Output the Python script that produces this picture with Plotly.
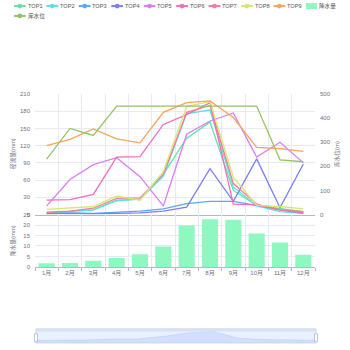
import plotly.graph_objects as go

months = ["1月", "2月", "3月", "4月", "5月", "6月", "7月", "8月", "9月", "10月", "11月", "12月"]
top1 = [3, 5, 8, 25, 27, 70, 133, 161, 42, 16, 11, 5]
top2 = [3, 5, 8, 24, 27, 67, 176, 182, 48, 15, 5, 2]
top3 = [2, 3, 2, 4, 6, 10, 19, 23, 23, 16, 8, 2]
top4 = [1, 2, 1, 2, 3, 6, 13, 80, 23, 97, 12, 88]
top5 = [15, 61, 87, 99, 66, 15, 140, 163, 177, 100, 126, 90]
top6 = [25, 26, 35, 100, 101, 157, 174, 195, 18, 17, 8, 3]
top7 = [4, 6, 11, 28, 29, 70, 178, 190, 54, 18, 8, 5]
top8 = [9, 11, 14, 32, 25, 75, 188, 197, 65, 16, 14, 10]
top9 = [120, 131, 149, 132, 125, 178, 195, 198, 169, 117, 115, 110]
rain = [1.8, 1.9, 3.0, 4.3, 6.0, 9.8, 19.8, 22.8, 22.5, 16.0, 11.7, 5.8]
level = [230, 357, 328, 450, 450, 450, 450, 450, 450, 450, 227, 219]

names = ["TOP1", "TOP2", "TOP3", "TOP4", "TOP5", "TOP6", "TOP7", "TOP8", "TOP9"]
series = [top1, top2, top3, top4, top5, top6, top7, top8, top9]
colors = ["#63e3a2", "#55e2e6", "#57a9f5", "#7d7ef2", "#dc7cf5", "#f26dbd", "#f57a9b", "#d3e86e", "#f7a35c"]
rain_color = "#8ff7c0"
level_color = "#98c262"

W, H = 350, 350
ML, MR, MT, MB = 35, 35, 94, 4
PW, PH = W - ML - MR, H - MT - MB


def px(x):
    return (x - ML) / PW


def py(y):
    return (H - MB - y) / PH


FONT = "Liberation Sans, Noto Sans CJK SC, sans-serif"
GRID = "#E6EAF2"
AXC = "#6E7079"

fig = go.Figure()

for n, s, c in zip(names, series, colors):
    fig.add_trace(go.Scatter(x=months, y=s, name=n, mode="lines",
                             line=dict(color=c, width=1.3), xaxis="x", yaxis="y",
                             showlegend=False))
fig.add_trace(go.Scatter(x=months, y=level, name="库水位", mode="lines",
                         line=dict(color=level_color, width=1.3), xaxis="x", yaxis="y2",
                         showlegend=False))
fig.add_trace(go.Bar(x=months, y=rain, name="降水量", marker=dict(color=rain_color, line=dict(width=0)),
                     xaxis="x2", yaxis="y3", showlegend=False))

# data-zoom slider shadow (first series)
idx = list(range(len(months)))
lo, hi = min(top1), max(top1)
pad = (hi - lo) * 0.3
ymin, ymax = lo - pad, hi + pad
fig.add_trace(go.Scatter(x=idx, y=[ymin] * len(idx), mode="lines", line=dict(width=0),
                         xaxis="x3", yaxis="y4", showlegend=False, hoverinfo="skip"))
fig.add_trace(go.Scatter(x=idx, y=top1, mode="lines", fill="tonexty",
                         fillcolor="rgba(143,176,247,0.25)", line=dict(color="rgba(143,176,247,0.35)", width=0.8),
                         xaxis="x3", yaxis="y4", showlegend=False, hoverinfo="skip"))

shapes = []
annotations = []

# slider frame
shapes.append(dict(type="rect", xref="paper", yref="paper", x0=px(36), x1=px(316), y0=py(346), y1=py(331.7),
                   line=dict(color="#d2dbee", width=1), fillcolor="rgba(135,175,255,0.18)", layer="below"))
shapes.append(dict(type="rect", xref="paper", yref="paper", x0=px(36), x1=px(316), y0=py(334.3), y1=py(331.7),
                   line=dict(width=0), fillcolor="rgba(210,219,238,0.7)", layer="above"))
for hx in (36, 316):
    shapes.append(dict(type="rect", xref="paper", yref="paper", x0=px(hx - 1.5), x1=px(hx + 1.5),
                       y0=py(344.7), y1=py(336.7), line=dict(color="#ACB8D1", width=0.8),
                       fillcolor="white", layer="above"))

# custom legend
LEG_FONT = dict(size=5.6, color="#555", family=FONT)
step = 32.44
row_items = [(n, c, "line") for n, c in zip(names, colors)] + [("降水量", rain_color, "bar")]
for i, (n, c, kind) in enumerate(row_items):
    x0 = 14 + step * i
    yc = 5
    if kind == "line":
        shapes.append(dict(type="line", xref="paper", yref="paper", x0=px(x0), x1=px(x0 + 11.7),
                           y0=py(yc), y1=py(yc), line=dict(color=c, width=2)))
        shapes.append(dict(type="circle", xref="paper", yref="paper", x0=px(x0 + 5.85 - 2.4), x1=px(x0 + 5.85 + 2.4),
                           y0=py(yc + 2.4), y1=py(yc - 2.4), line=dict(color=c, width=0), fillcolor=c))
    else:
        shapes.append(dict(type="rect", xref="paper", yref="paper", x0=px(x0), x1=px(x0 + 11),
                           y0=py(yc + 3), y1=py(yc - 3), line=dict(width=0), fillcolor=c))
    annotations.append(dict(text=n, xref="paper", yref="paper", x=px(x0 + 12.5), y=py(yc),
                            xanchor="left", yanchor="middle", showarrow=False, borderpad=0,
                            font=LEG_FONT))
x0, yc = 14, 15
shapes.append(dict(type="line", xref="paper", yref="paper", x0=px(x0), x1=px(x0 + 11.7),
                   y0=py(yc), y1=py(yc), line=dict(color=level_color, width=2)))
shapes.append(dict(type="circle", xref="paper", yref="paper", x0=px(x0 + 5.85 - 2.4), x1=px(x0 + 5.85 + 2.4),
                   y0=py(yc + 2.4), y1=py(yc - 2.4), line=dict(width=0), fillcolor=level_color))
annotations.append(dict(text="库水位", xref="paper", yref="paper", x=px(x0 + 12.5), y=py(yc),
                        xanchor="left", yanchor="middle", showarrow=False, borderpad=0,
                        font=LEG_FONT))

# axis titles
TITLE_FONT = dict(size=5.8, color=AXC, family=FONT)
annotations.append(dict(text="径流量(mm)", xref="paper", yref="paper", x=px(13), y=py(155), textangle=-90,
                        showarrow=False, xanchor="center", yanchor="middle", font=TITLE_FONT))
annotations.append(dict(text="降水量(mm)", xref="paper", yref="paper", x=px(13), y=py(243), textangle=-90,
                        showarrow=False, xanchor="center", yanchor="middle", font=TITLE_FONT))
annotations.append(dict(text="库水位(m)", xref="paper", yref="paper", x=px(337), y=py(155), textangle=-90,
                        showarrow=False, xanchor="center", yanchor="middle", font=TITLE_FONT))

tick_font = dict(size=6, color=AXC, family=FONT)
d_top = [py(216), 1]
d_bot = [py(269), py(216)]
d_sl = [0, py(331.7)]

fig.update_layout(
    width=W, height=H,
    margin=dict(l=ML, r=MR, t=MT, b=MB, pad=0),
    paper_bgcolor="white", plot_bgcolor="white",
    showlegend=False,
    bargap=0.31,
    font=dict(family=FONT),
    xaxis=dict(domain=[0, 1], anchor="y", type="category", categoryorder="array", categoryarray=months,
               tickson="boundaries", showgrid=True, gridcolor=GRID, gridwidth=1,
               showticklabels=False, ticks="", showline=True, linecolor="#B5B8C0", linewidth=1,
               zeroline=False, range=[-0.5, 11.5]),
    yaxis=dict(domain=d_top, anchor="x", range=[0, 210], dtick=30, tick0=0, showgrid=True, gridcolor=GRID,
               zeroline=False, showline=False, ticks="", tickfont=tick_font, ticklabelstandoff=4),
    yaxis2=dict(overlaying="y", anchor="x", side="right", range=[0, 500], dtick=100, showgrid=False,
                zeroline=False, showline=False, ticks="", tickfont=tick_font, ticklabelstandoff=4),
    xaxis2=dict(domain=[0, 1], anchor="y3", type="category", categoryorder="array", categoryarray=months,
                tickson="boundaries", showgrid=True, gridcolor=GRID, ticks="outside", ticklen=3,
                tickcolor="#B5B8C0", showline=True, linecolor="#B5B8C0", linewidth=1, tickfont=tick_font,
                tickangle=0, zeroline=False, range=[-0.5, 11.5]),
    yaxis3=dict(domain=d_bot, anchor="x2", range=[0, 25], dtick=5, tick0=0, showgrid=True, gridcolor=GRID,
                zeroline=False, showline=False, ticks="", tickfont=tick_font, ticklabelstandoff=4),
    xaxis3=dict(domain=[0, 1], anchor="y4", range=[0, 11], visible=False),
    yaxis4=dict(domain=d_sl, anchor="x3", range=[ymin, ymax], visible=False),
    shapes=shapes,
    annotations=annotations,
)

fig.write_html("out.html")
